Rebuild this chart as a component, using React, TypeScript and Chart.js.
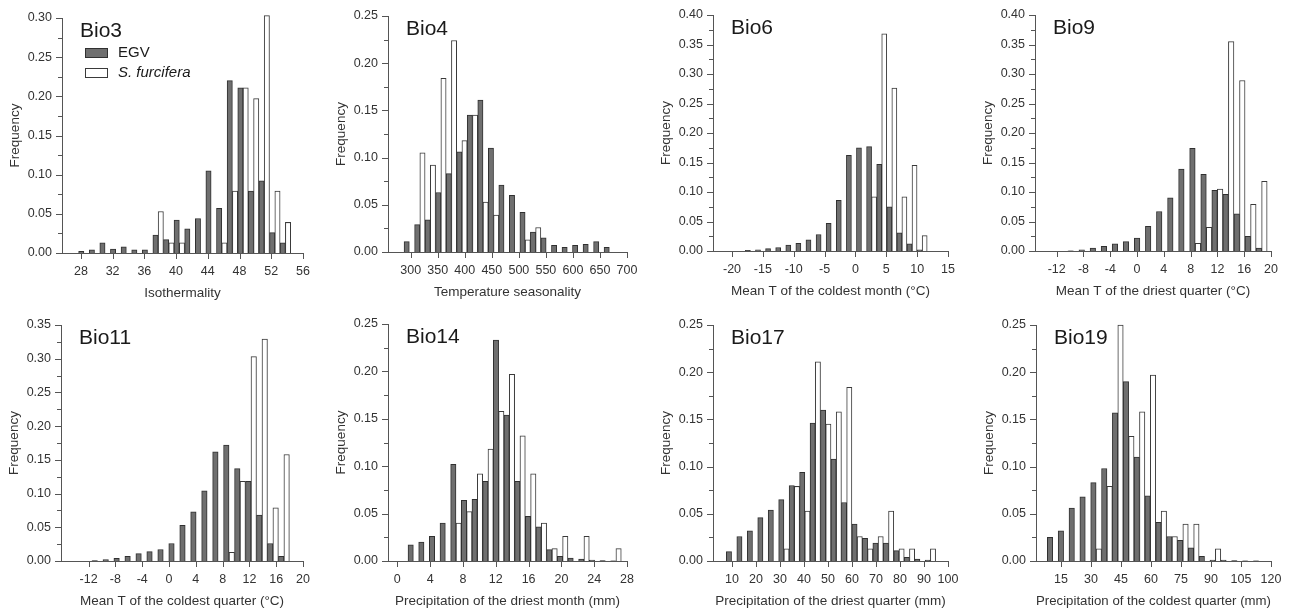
import React, { useEffect, useRef } from 'react';
import { Chart, registerables } from 'chart.js';

Chart.register(...registerables);

// ---------- Data ----------
const LEGEND_LABELS = ['EGV', 'S. furcifera'];

// Bio3
const BIO3_BINS = [28.38, 29.72, 31.05, 32.39, 33.73, 35.07, 36.40, 37.74, 39.08, 40.41, 41.75, 43.09, 44.42, 45.76, 47.10, 48.44, 49.77, 51.11, 52.45, 53.78];
const BIO3_EGV = [0.002, 0.004, 0.013, 0.005, 0.008, 0.004, 0.004, 0.023, 0.017, 0.042, 0.031, 0.044, 0.105, 0.057, 0.220, 0.211, 0.079, 0.092, 0.026, 0.013];
const BIO3_SF = [null, null, null, null, null, null, null, 0.053, 0.013, 0.013, null, null, null, 0.013, 0.079, 0.211, 0.197, 0.303, 0.079, 0.039];
const BIO3_XTICKS = [28, 32, 36, 40, 44, 48, 52, 56];
const BIO3_YTICKS = [0, 0.05, 0.1, 0.15, 0.2, 0.25, 0.3];

// Bio4
const BIO4_BINS = [297.4, 316.9, 336.3, 355.8, 375.3, 394.7, 414.2, 433.7, 453.2, 472.6, 492.1, 511.6, 531.0, 550.5, 570.0, 589.5, 608.9, 628.4, 647.9, 667.3];
const BIO4_EGV = [0.011, 0.029, 0.034, 0.063, 0.083, 0.106, 0.145, 0.161, 0.110, 0.071, 0.060, 0.042, 0.021, 0.015, 0.007, 0.005, 0.007, 0.008, 0.011, 0.005];
const BIO4_SF = [null, 0.105, 0.092, 0.184, 0.224, 0.118, 0.145, 0.053, 0.039, null, null, 0.013, 0.026, null, null, null, null, null, null, null];
const BIO4_XTICKS = [300, 350, 400, 450, 500, 550, 600, 650, 700];
const BIO4_YTICKS = [0, 0.05, 0.1, 0.15, 0.2, 0.25];

// Bio6
const BIO6_BINS = [-17.02, -15.38, -13.75, -12.11, -10.47, -8.84, -7.20, -5.56, -3.93, -2.29, -0.65, 0.98, 2.62, 4.26, 5.90, 7.53, 9.17, 10.81];
const BIO6_EGV = [0.001, 0.002, 0.004, 0.006, 0.010, 0.013, 0.019, 0.028, 0.047, 0.086, 0.162, 0.175, 0.177, 0.147, 0.075, 0.031, 0.012, 0.002];
const BIO6_SF = [null, null, null, null, null, null, null, null, null, null, null, null, 0.092, 0.368, 0.276, 0.092, 0.145, 0.026];
const BIO6_XTICKS = [-20, -15, -10, -5, 0, 5, 10, 15];
const BIO6_YTICKS = [0, 0.05, 0.1, 0.15, 0.2, 0.25, 0.3, 0.35, 0.4];

// Bio9
const BIO9_BINS = [-9.50, -7.85, -6.19, -4.54, -2.89, -1.24, 0.42, 2.07, 3.72, 5.38, 7.03, 8.68, 10.34, 11.99, 13.64, 15.30, 16.95, 18.60];
const BIO9_EGV = [0.0005, 0.002, 0.005, 0.008, 0.012, 0.016, 0.022, 0.042, 0.067, 0.090, 0.139, 0.174, 0.130, 0.103, 0.096, 0.063, 0.025, 0.005];
const BIO9_SF = [null, null, null, null, null, null, null, null, null, null, null, 0.013, 0.040, 0.105, 0.355, 0.289, 0.079, 0.118];
const BIO9_XTICKS = [-12, -8, -4, 0, 4, 8, 12, 16, 20];
const BIO9_YTICKS = [0, 0.05, 0.1, 0.15, 0.2, 0.25, 0.3, 0.35, 0.4];

// Bio11
const BIO11_BINS = [-10.68, -9.04, -7.41, -5.77, -4.13, -2.50, -0.86, 0.78, 2.42, 4.05, 5.69, 7.33, 8.96, 10.60, 12.24, 13.88, 15.51, 17.15];
const BIO11_EGV = [0.0005, 0.002, 0.004, 0.007, 0.011, 0.014, 0.017, 0.026, 0.053, 0.073, 0.104, 0.162, 0.172, 0.137, 0.118, 0.068, 0.026, 0.007];
const BIO11_SF = [null, null, null, null, null, null, null, null, null, null, null, null, 0.013, 0.118, 0.303, 0.329, 0.079, 0.158];
const BIO11_XTICKS = [-12, -8, -4, 0, 4, 8, 12, 16, 20];
const BIO11_YTICKS = [0, 0.05, 0.1, 0.15, 0.2, 0.25, 0.3, 0.35];

// Bio14
const BIO14_BINS = [1.95, 3.25, 4.55, 5.85, 7.15, 8.45, 9.75, 11.05, 12.35, 13.65, 14.95, 16.25, 17.55, 18.85, 20.15, 21.45, 22.75, 24.05, 25.35, 26.65];
const BIO14_EGV = [0.017, 0.020, 0.026, 0.040, 0.102, 0.064, 0.065, 0.084, 0.233, 0.154, 0.084, 0.047, 0.036, 0.012, 0.005, 0.003, 0.002, 0.001, 0.0005, 0.0003];
const BIO14_SF = [null, null, null, null, 0.040, 0.052, 0.092, 0.118, 0.158, 0.197, 0.132, 0.092, 0.040, 0.013, 0.026, null, 0.026, null, null, 0.013];
const BIO14_XTICKS = [0, 4, 8, 12, 16, 20, 24, 28];
const BIO14_YTICKS = [0, 0.05, 0.1, 0.15, 0.2, 0.25];

// Bio17
const BIO17_BINS = [9.82, 14.18, 18.54, 22.90, 27.26, 31.62, 35.98, 40.34, 44.70, 49.06, 53.42, 57.78, 62.14, 66.50, 70.86, 75.22, 79.58, 83.94, 88.30, 92.66];
const BIO17_EGV = [0.010, 0.026, 0.032, 0.046, 0.054, 0.065, 0.080, 0.094, 0.146, 0.160, 0.108, 0.062, 0.039, 0.024, 0.019, 0.019, 0.011, 0.004, 0.002, 0.001];
const BIO17_SF = [null, null, null, null, null, 0.013, 0.079, 0.053, 0.211, 0.145, 0.158, 0.184, 0.026, 0.013, 0.026, 0.053, 0.013, 0.013, null, 0.013];
const BIO17_XTICKS = [10, 20, 30, 40, 50, 60, 70, 80, 90, 100];
const BIO17_YTICKS = [0, 0.05, 0.1, 0.15, 0.2, 0.25];

// Bio19
const BIO19_BINS = [10.88, 16.30, 21.72, 27.14, 32.56, 37.98, 43.40, 48.82, 54.24, 59.66, 65.08, 70.50, 75.92, 81.34, 86.76, 92.18, 97.60, 103.02, 108.44, 113.86];
const BIO19_EGV = [0.025, 0.032, 0.056, 0.068, 0.083, 0.098, 0.157, 0.190, 0.110, 0.069, 0.041, 0.026, 0.022, 0.014, 0.005, 0.001, 0.001, 0.0005, 0.0003, 0.0003];
const BIO19_SF = [null, null, null, null, 0.013, 0.079, 0.250, 0.132, 0.158, 0.197, 0.053, 0.026, 0.039, 0.039, null, 0.013, null, null, null, null];
const BIO19_XTICKS = [15, 30, 45, 60, 75, 90, 105, 120];
const BIO19_YTICKS = [0, 0.05, 0.1, 0.15, 0.2, 0.25];

// ---------- Panel config (layout kept separate from data) ----------
type PanelCfg = {
  title: string; xLabel: string; bins: number[]; egv: number[]; sf: (number | null)[];
  xTicks: number[]; yTicks: number[]; xMin: number; legend?: boolean;
  L: number; R: number; T: number; B: number;
};

const PANELS: PanelCfg[] = [
  { title: 'Bio3', xLabel: 'Isothermality', bins: BIO3_BINS, egv: BIO3_EGV, sf: BIO3_SF, xTicks: BIO3_XTICKS, yTicks: BIO3_YTICKS, xMin: 25.62, legend: true, L: 62, R: 303, T: 18, B: 253 },
  { title: 'Bio4', xLabel: 'Temperature seasonality', bins: BIO4_BINS, egv: BIO4_EGV, sf: BIO4_SF, xTicks: BIO4_XTICKS, yTicks: BIO4_YTICKS, xMin: 258, L: 388, R: 627, T: 16, B: 252 },
  { title: 'Bio6', xLabel: 'Mean T of the coldest month (°C)', bins: BIO6_BINS, egv: BIO6_EGV, sf: BIO6_SF, xTicks: BIO6_XTICKS, yTicks: BIO6_YTICKS, xMin: -23.08, L: 713, R: 948, T: 15, B: 251 },
  { title: 'Bio9', xLabel: 'Mean T of the driest quarter (°C)', bins: BIO9_BINS, egv: BIO9_EGV, sf: BIO9_SF, xTicks: BIO9_XTICKS, yTicks: BIO9_YTICKS, xMin: -15.24, L: 1035, R: 1271, T: 15, B: 251 },
  { title: 'Bio11', xLabel: 'Mean T of the coldest quarter (°C)', bins: BIO11_BINS, egv: BIO11_EGV, sf: BIO11_SF, xTicks: BIO11_XTICKS, yTicks: BIO11_YTICKS, xMin: -16.12, L: 61, R: 303, T: 325, B: 561 },
  { title: 'Bio14', xLabel: 'Precipitation of the driest month (mm)', bins: BIO14_BINS, egv: BIO14_EGV, sf: BIO14_SF, xTicks: BIO14_XTICKS, yTicks: BIO14_YTICKS, xMin: -1.14, L: 388, R: 627, T: 324, B: 561 },
  { title: 'Bio17', xLabel: 'Precipitation of the driest quarter (mm)', bins: BIO17_BINS, egv: BIO17_EGV, sf: BIO17_SF, xTicks: BIO17_XTICKS, yTicks: BIO17_YTICKS, xMin: 2.08, L: 713, R: 948, T: 325, B: 561 },
  { title: 'Bio19', xLabel: 'Precipitation of the coldest quarter (mm)', bins: BIO19_BINS, egv: BIO19_EGV, sf: BIO19_SF, xTicks: BIO19_XTICKS, yTicks: BIO19_YTICKS, xMin: 2.5, L: 1036, R: 1271, T: 325, B: 561 },
];

const FONT = '"Liberation Sans", Arial, Helvetica, sans-serif';
const AXIS_COLOR = '#555555';
const TEXT_COLOR = '#333333';
const GREY_FILL = '#6f6f6f';
const GREY_EDGE = '#303030';
const WHITE_FILL = '#ffffff';
const WHITE_EDGE = '#3a3a3a';

const Y_AXIS_W = 60;
const X_AXIS_H = 50;
const PAD_TOP = 12;
const PAD_RIGHT = 14;

const decorPlugin = {
  id: 'panelDecor',
  afterDraw(chart: any, _args: any, opts: any) {
    const { ctx, chartArea: ca, scales } = chart;
    const x = scales.x, y = scales.y;
    ctx.save();
    ctx.strokeStyle = AXIS_COLOR;
    ctx.lineWidth = 1;
    ctx.beginPath();
    const xt: number[] = opts.xTicks;
    xt.forEach((v) => {
      const px = Math.round(x.getPixelForValue(v)) + 0.5;
      ctx.moveTo(px, ca.bottom);
      ctx.lineTo(px, ca.bottom + 6);
    });
    const yt: number[] = opts.yTicks;
    yt.forEach((v, i) => {
      const py = Math.round(y.getPixelForValue(v)) + 0.5;
      ctx.moveTo(ca.left, py);
      ctx.lineTo(ca.left - 6, py);
      if (i < yt.length - 1) {
        const pm = Math.round(y.getPixelForValue((v + yt[i + 1]) / 2)) + 0.5;
        ctx.moveTo(ca.left, pm);
        ctx.lineTo(ca.left - 4, pm);
      }
    });
    ctx.stroke();

    // panel title
    ctx.fillStyle = '#1a1a1a';
    ctx.font = `21px ${FONT}`;
    ctx.textAlign = 'left';
    ctx.textBaseline = 'alphabetic';
    ctx.fillText(opts.title, ca.left + 18, ca.top + 19);

    // legend
    if (opts.legend) {
      chart.data.datasets.forEach((d: any, i: number) => {
        const sy = Math.round(ca.top + 30 + i * 20);
        const sx = Math.round(ca.left + 23);
        ctx.fillStyle = d.backgroundColor;
        ctx.fillRect(sx, sy, 22, 9);
        ctx.strokeStyle = d.borderColor;
        ctx.strokeRect(sx + 0.5, sy + 0.5, 22, 9);
        ctx.fillStyle = '#1a1a1a';
        ctx.font = `${i === 1 ? 'italic ' : ''}15px ${FONT}`;
        ctx.textBaseline = 'middle';
        ctx.fillText(d.label, sx + 33, sy + 5);
      });
    }
    ctx.restore();
  },
};

function Panel({ p }: { p: PanelCfg }) {
  const ref = useRef<HTMLCanvasElement>(null);
  useEffect(() => {
    const lastX = p.xTicks[p.xTicks.length - 1];
    const lastY = p.yTicks[p.yTicks.length - 1];
    const chart = new Chart(ref.current as HTMLCanvasElement, {
      type: 'bar',
      data: {
        datasets: [
          {
            label: LEGEND_LABELS[0],
            data: p.bins.map((bx, i) => ({ x: bx, y: p.egv[i] })),
            backgroundColor: GREY_FILL,
            borderColor: GREY_EDGE,
            borderWidth: 1,
            categoryPercentage: 1,
            barPercentage: 1,
            clip: false,
          },
          {
            label: LEGEND_LABELS[1],
            data: p.bins.map((bx, i) => ({ x: bx, y: p.sf[i] })),
            backgroundColor: WHITE_FILL,
            borderColor: WHITE_EDGE,
            borderWidth: 1,
            categoryPercentage: 1,
            barPercentage: 1,
            clip: false,
          },
        ] as any,
      },
      options: {
        animation: false,
        responsive: true,
        maintainAspectRatio: false,
        layout: { padding: { top: PAD_TOP, right: PAD_RIGHT, left: 0, bottom: 0 } },
        plugins: {
          legend: { display: false },
          tooltip: { enabled: false },
          panelDecor: { title: p.title, legend: !!p.legend, xTicks: p.xTicks, yTicks: p.yTicks },
        } as any,
        scales: {
          x: {
            type: 'linear',
            min: p.xMin,
            max: lastX,
            offset: false,
            grid: { display: false, drawTicks: false },
            border: { display: true, color: AXIS_COLOR, width: 1 },
            afterBuildTicks: (s: any) => { s.ticks = p.xTicks.map((v) => ({ value: v })); },
            afterFit: (s: any) => { s.height = X_AXIS_H; s.paddingLeft = 0; s.paddingRight = 0; },
            ticks: {
              padding: 11,
              color: TEXT_COLOR,
              font: { size: 12.5, family: FONT },
              maxRotation: 0,
              autoSkip: false,
              callback: (v: any) => String(v),
            },
            title: {
              display: true,
              text: p.xLabel,
              color: TEXT_COLOR,
              font: { size: 13.5, family: FONT },
              padding: { top: 0, bottom: 2 },
            },
          },
          y: {
            type: 'linear',
            min: 0,
            max: lastY,
            grid: { display: false, drawTicks: false },
            border: { display: true, color: AXIS_COLOR, width: 1 },
            afterBuildTicks: (s: any) => { s.ticks = p.yTicks.map((v) => ({ value: v })); },
            afterFit: (s: any) => { s.width = Y_AXIS_W; s.paddingTop = 0; s.paddingBottom = 0; },
            ticks: {
              padding: 10,
              color: TEXT_COLOR,
              font: { size: 12.5, family: FONT },
              autoSkip: false,
              callback: (v: any) => Number(v).toFixed(2),
            },
            title: {
              display: true,
              text: 'Frequency',
              color: TEXT_COLOR,
              font: { size: 13.5, family: FONT },
              padding: { top: 5, bottom: 0 },
            },
          },
        },
      } as any,
      plugins: [decorPlugin],
    });
    return () => chart.destroy();
  }, [p]);

  const style: React.CSSProperties = {
    position: 'absolute',
    left: p.L - Y_AXIS_W,
    top: p.T - PAD_TOP,
    width: p.R - p.L + Y_AXIS_W + PAD_RIGHT,
    height: p.B - p.T + PAD_TOP + X_AXIS_H,
  };
  return (
    <div style={style}>
      <canvas ref={ref} />
    </div>
  );
}

export default function App() {
  return (
    <div style={{ position: 'absolute', left: 0, top: 0, width: 1298, height: 611, background: '#ffffff', overflow: 'hidden' }}>
      {PANELS.map((p) => (
        <Panel key={p.title} p={p} />
      ))}
    </div>
  );
}
